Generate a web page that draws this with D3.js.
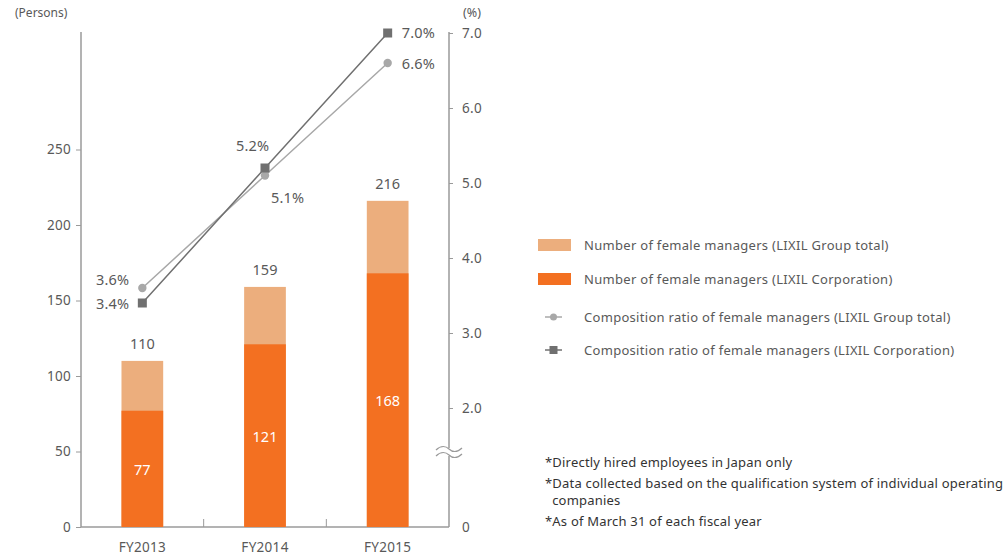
<!DOCTYPE html>
<html><head><meta charset="utf-8">
<script src="https://cdn.jsdelivr.net/npm/d3@7"></script>
<style>
body{margin:0;background:#fff;}
text{font-family:"Noto Sans",sans-serif;fill:#595959;}
</style></head>
<body><svg id="c" width="1005" height="558"></svg>
<script>
const categories = ["FY2013","FY2014","FY2015"];
const groupTotal = [110,159,216];
const corpTotal = [77,121,168];
const ratioGroup = [3.6,5.1,6.6];
const ratioCorp = [3.4,5.2,7.0];
const leftTicks = [0,50,100,150,200,250];
const rightTicks = [2.0,3.0,4.0,5.0,6.0,7.0];
const legendLabels = ["Number of female managers (LIXIL Group total)","Number of female managers (LIXIL Corporation)","Composition ratio of female managers (LIXIL Group total)","Composition ratio of female managers (LIXIL Corporation)"];
const notes = ["*Directly hired employees in Japan only","*Data collected based on the qualification system of individual operating","  companies","*As of March 31 of each fiscal year"];

const colLight="#ECAE7D", colDark="#F37021", lineLight="#A8A8A8", lineDark="#707070", axisCol="#9a9a9a";
const svg=d3.select("#c");
const x0=81,x1=449,yBase=527;
const x=d3.scaleBand().domain(categories).range([x0,x1]).paddingInner(0.66).paddingOuter(0.33);
const yL=d3.scaleLinear().domain([0,250]).range([yBase,149.5]);
const yR=d3.scaleLinear().domain([2,7]).range([408,33]);

// axes
const gL=svg.append("g").attr("transform",`translate(${x0},0)`).call(d3.axisLeft(yL).tickValues(leftTicks).tickSize(5).tickSizeOuter(0));
gL.select(".domain").remove();
svg.append("line").attr("x1",x0).attr("x2",x0).attr("y1",32).attr("y2",yBase).attr("stroke",axisCol).attr("stroke-width",1.5);
gL.selectAll(".tick line").attr("stroke",axisCol);
gL.selectAll(".tick text").attr("x",-10).style("font-size","13.5px").style("letter-spacing","0.3px");

const gR=svg.append("g").attr("transform",`translate(${x1},0)`).call(d3.axisRight(yR).tickValues(rightTicks).tickFormat(d3.format(".1f")).tickSize(4).tickSizeOuter(0));
gR.select(".domain").remove();
gR.selectAll(".tick line").attr("stroke",axisCol);
gR.selectAll(".tick text").attr("x",13).style("font-size","13.5px").style("letter-spacing","0.3px");
svg.append("line").attr("x1",x1).attr("x2",x1).attr("y1",32).attr("y2",yBase).attr("stroke",axisCol).attr("stroke-width",1.5);
svg.append("text").attr("x",x1+13).attr("y",yBase+5).text("0").style("font-size","13.5px");
// break symbol
const bg=svg.append("g").attr("transform",`translate(${x1},452)`);
bg.append("rect").attr("x",-12).attr("y",-4).attr("width",24).attr("height",8).attr("fill","#fff");
[-3,3].forEach(o=>bg.append("path").attr("d",`M-13,${o+1} C-8,${o-4} -3,${o-3} 0,${o} S8,${o+4} 13,${o-1}`).attr("fill","none").attr("stroke",axisCol).attr("stroke-width",1.2));

// x axis
svg.append("line").attr("x1",x0).attr("x2",x1).attr("y1",yBase).attr("y2",yBase).attr("stroke",axisCol).attr("stroke-width",1.5);
const bounds=categories.slice(1).map(c=>x(c)-x.step()*x.paddingInner()/2);
svg.selectAll(".sep").data(bounds).join("line").attr("x1",d=>d).attr("x2",d=>d).attr("y1",yBase-8).attr("y2",yBase).attr("stroke",axisCol);
svg.selectAll(".xl").data(categories).join("text").attr("x",d=>x(d)+x.bandwidth()/2).attr("y",yBase+25).attr("text-anchor","middle").style("font-size","13.5px").style("letter-spacing","0.3px").text(d=>d);

// bars
svg.selectAll(".bl").data(categories).join("rect").attr("x",d=>x(d)).attr("width",x.bandwidth()).attr("y",(d,i)=>yL(groupTotal[i])).attr("height",(d,i)=>yBase-yL(groupTotal[i])).attr("fill",colLight);
svg.selectAll(".bd").data(categories).join("rect").attr("x",d=>x(d)).attr("width",x.bandwidth()).attr("y",(d,i)=>yL(corpTotal[i])).attr("height",(d,i)=>yBase-yL(corpTotal[i])).attr("fill",colDark);
svg.selectAll(".lt").data(categories).join("text").attr("x",d=>x(d)+x.bandwidth()/2).attr("y",(d,i)=>yL(groupTotal[i])-12).attr("text-anchor","middle").style("font-size","14.5px").text((d,i)=>groupTotal[i]);
svg.selectAll(".ld").data(categories).join("text").attr("x",d=>x(d)+x.bandwidth()/2).attr("y",(d,i)=>yL(corpTotal[i]/2)+6).attr("text-anchor","middle").style("font-size","14.5px").style("fill","#fff").text((d,i)=>corpTotal[i]);

// lines
const cx=d=>x(d)+x.bandwidth()/2;
const line=(arr)=>d3.line().x((d,i)=>cx(categories[i])).y(d=>yR(d))(arr);
svg.append("path").attr("d",line(ratioGroup)).attr("fill","none").attr("stroke",lineLight).attr("stroke-width",1.5);
svg.append("path").attr("d",line(ratioCorp)).attr("fill","none").attr("stroke",lineDark).attr("stroke-width",1.5);
svg.selectAll(".mc").data(ratioGroup).join("circle").attr("cx",(d,i)=>cx(categories[i])).attr("cy",d=>yR(d)).attr("r",4.2).attr("fill",lineLight);
svg.selectAll(".ms").data(ratioCorp).join("rect").attr("x",(d,i)=>cx(categories[i])-4.5).attr("y",d=>yR(d)-4.5).attr("width",9).attr("height",9).attr("fill",lineDark);
// labels
const gOff=[[-13,-3,"end"],[6,27,"start"],[14,6,"start"]];
const cOff=[[-13,6,"end"],[-29,-17,"start"],[14,5,"start"]];
svg.selectAll(".gl").data(ratioGroup).join("text").attr("x",(d,i)=>cx(categories[i])+gOff[i][0]).attr("y",d=>yR(d)).each(function(d,i){d3.select(this).attr("dy",gOff[i][1]).attr("text-anchor",gOff[i][2]);}).style("font-size","14.5px").style("letter-spacing","0.2px").text(d=>d.toFixed(1)+"%");
svg.selectAll(".cl").data(ratioCorp).join("text").attr("x",(d,i)=>cx(categories[i])+cOff[i][0]).attr("y",d=>yR(d)).each(function(d,i){d3.select(this).attr("dy",cOff[i][1]).attr("text-anchor",cOff[i][2]);}).style("font-size","14.5px").style("letter-spacing","0.2px").text(d=>d.toFixed(1)+"%");

// unit labels
svg.append("text").attr("x",15).attr("y",17).style("font-size","12px").text("(Persons)");
svg.append("text").attr("x",463).attr("y",17).style("font-size","12.5px").text("(%)");

// legend
const ly=[245,279,317,350];
legendLabels.forEach((t,i)=>{
  if(i<2) svg.append("rect").attr("x",538).attr("y",ly[i]-6).attr("width",33).attr("height",12).attr("fill",i==0?colLight:colDark);
  else {
    svg.append("line").attr("x1",545).attr("x2",562).attr("y1",ly[i]).attr("y2",ly[i]).attr("stroke",i==2?lineLight:lineDark).attr("stroke-width",1.5);
    if(i==2) svg.append("circle").attr("cx",553.5).attr("cy",ly[i]).attr("r",3.5).attr("fill",lineLight);
    else svg.append("rect").attr("x",549.5).attr("y",ly[i]-4).attr("width",8).attr("height",8).attr("fill",lineDark);
  }
  svg.append("text").attr("x",584).attr("y",ly[i]+5).style("font-size","13px").style("letter-spacing","0.3px").text(t);
});
// notes
const ny=[467,488,505,526];
notes.forEach((t,i)=>svg.append("text").attr("x",545).attr("y",ny[i]).attr("xml:space","preserve").style("font-size","13px").style("letter-spacing","0.2px").style("fill","#333").text(t));
</script></body></html>
